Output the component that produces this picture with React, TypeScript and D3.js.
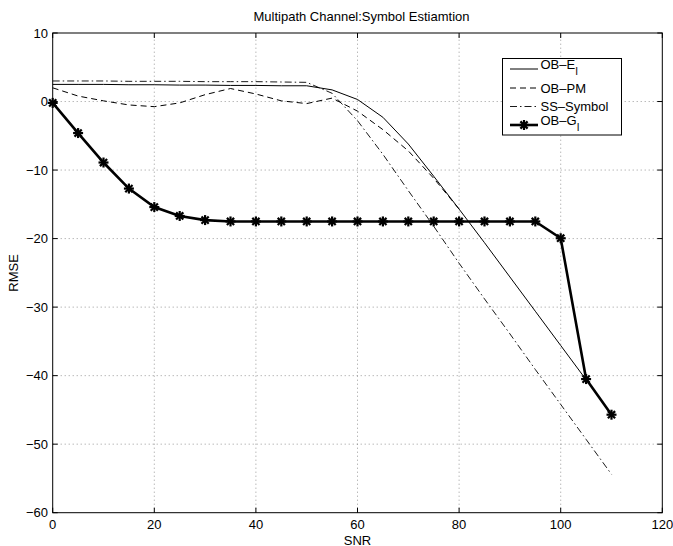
import React, { useEffect, useRef } from 'react';
import * as d3 from 'd3';

// SNR positions for each series
const snrE = [0, 5, 10, 15, 20, 25, 30, 35, 40, 45, 50, 55, 60, 65, 70, 75, 80, 85, 90, 95, 100, 105];
const snrPM = [0, 5, 10, 15, 20, 25, 30, 35, 40, 45, 50, 55, 60, 65, 70, 75, 80];
const snrFull = [0, 5, 10, 15, 20, 25, 30, 35, 40, 45, 50, 55, 60, 65, 70, 75, 80, 85, 90, 95, 100, 105, 110];

// RMSE values
const obE = [2.5, 2.5, 2.5, 2.45, 2.45, 2.4, 2.4, 2.35, 2.35, 2.3, 2.3, 1.7, 0.3, -2.3, -6.2, -10.9, -15.7, -20.6, -25.6, -30.6, -35.6, -40.6];
const obPM = [2.0, 0.8, 0.1, -0.5, -0.75, -0.2, 1.0, 1.9, 1.1, 0.1, -0.3, 0.5, -1.4, -4.1, -7.2, -11.2, -15.7];
const ssSymbol = [3.0, 3.0, 3.0, 2.95, 2.95, 2.95, 2.9, 2.9, 2.9, 2.85, 2.8, 1.2, -2.8, -7.7, -13.0, -18.2, -23.6, -28.8, -33.9, -39.1, -44.2, -49.3, -54.4];
const obG = [-0.2, -4.6, -8.9, -12.7, -15.4, -16.7, -17.3, -17.5, -17.5, -17.5, -17.5, -17.5, -17.5, -17.5, -17.5, -17.5, -17.5, -17.5, -17.5, -17.5, -19.95, -40.5, -45.7];

const xTicks = [0, 20, 40, 60, 80, 100, 120];
const yTicks = [10, 0, -10, -20, -30, -40, -50, -60];

const FONT = 'Arial, "Liberation Sans", Helvetica, sans-serif';

const App = () => {
  const ref = useRef<SVGSVGElement | null>(null);

  useEffect(() => {
    const svg = d3.select(ref.current);
    svg.selectAll('*').remove();

    const x = d3.scaleLinear().domain([0, 120]).range([52.7, 662.3]);
    const y = d3.scaleLinear().domain([-60, 10]).range([512.7, 33]);
    const [x0, x1] = x.range();
    const [y0, y1] = y.range();

    svg.append('rect').attr('width', 673).attr('height', 546).attr('fill', '#fff');

    // grid
    const grid = svg.append('g').attr('stroke', '#555').attr('stroke-width', 0.6).attr('stroke-dasharray', '1,3');
    xTicks.slice(1, -1).forEach(t => {
      grid.append('line').attr('x1', x(t)).attr('x2', x(t)).attr('y1', y0).attr('y2', y1);
    });
    yTicks.slice(1, -1).forEach(t => {
      grid.append('line').attr('x1', x0).attr('x2', x1).attr('y1', y(t)).attr('y2', y(t));
    });

    // axes box + inward ticks
    const axis = svg.append('g').attr('stroke', '#000').attr('stroke-width', 1).attr('fill', 'none');
    axis.append('rect').attr('x', x0).attr('y', y1).attr('width', x1 - x0).attr('height', y0 - y1);
    xTicks.forEach(t => {
      axis.append('line').attr('x1', x(t)).attr('x2', x(t)).attr('y1', y0).attr('y2', y0 - 5);
      axis.append('line').attr('x1', x(t)).attr('x2', x(t)).attr('y1', y1).attr('y2', y1 + 5);
    });
    yTicks.forEach(t => {
      axis.append('line').attr('x1', x0).attr('x2', x0 + 5).attr('y1', y(t)).attr('y2', y(t));
      axis.append('line').attr('x1', x1).attr('x2', x1 - 5).attr('y1', y(t)).attr('y2', y(t));
    });

    const txt = svg.append('g').style('font-family', FONT).style('font-size', '13px').attr('fill', '#000');
    xTicks.forEach(t => {
      txt.append('text').attr('x', x(t)).attr('y', 528.5).attr('text-anchor', 'middle').text(String(t).replace('-', '\u2212'));
    });
    yTicks.forEach(t => {
      txt.append('text').attr('x', 48).attr('y', y(t) + 4.5).attr('text-anchor', 'end').text(String(t).replace('-', '\u2212'));
    });
    txt.append('text').attr('x', (x0 + x1) / 2).attr('y', 544.5).attr('text-anchor', 'middle').text('SNR');
    txt.append('text').attr('transform', `translate(18,${(y0 + y1) / 2}) rotate(-90)`)
      .attr('text-anchor', 'middle').text('RMSE');
    txt.append('text').attr('x', (x0 + x1) / 2 + 4).attr('y', 21).attr('text-anchor', 'middle')
      .text('Multipath Channel:Symbol Estiamtion');

    const line = d3.line<[number, number]>().x(d => x(d[0])).y(d => y(d[1]));
    const plot = svg.append('g').attr('fill', 'none').attr('stroke', '#000');

    plot.append('path').attr('d', line(snrE.map((s, i) => [s, obE[i]]))).attr('stroke-width', 1);
    plot.append('path').attr('d', line(snrPM.map((s, i) => [s, obPM[i]]))).attr('stroke-width', 1)
      .attr('stroke-dasharray', '6,4');
    plot.append('path').attr('d', line(snrFull.map((s, i) => [s, ssSymbol[i]]))).attr('stroke-width', 0.9)
      .attr('stroke-dasharray', '7,3,1.5,3');
    plot.append('path').attr('d', line(snrFull.map((s, i) => [s, obG[i]]))).attr('stroke-width', 2.6);

    const star = (g: any, cx: number, cy: number, r: number) => {
      const p = g.append('g').attr('transform', `translate(${cx},${cy})`).attr('stroke', '#000').attr('stroke-width', 2.2);
      p.append('line').attr('x1', -r).attr('x2', r).attr('y1', 0).attr('y2', 0);
      p.append('line').attr('x1', 0).attr('x2', 0).attr('y1', -r).attr('y2', r);
      const k = r * 0.72;
      p.append('line').attr('x1', -k).attr('x2', k).attr('y1', -k).attr('y2', k);
      p.append('line').attr('x1', -k).attr('x2', k).attr('y1', k).attr('y2', -k);
    };
    snrFull.forEach((s, i) => star(plot, x(s), y(obG[i]), 5));

    // legend
    const lg = svg.append('g');
    lg.append('rect').attr('x', 502.5).attr('y', 58.5).attr('width', 119).attr('height', 76.5)
      .attr('fill', '#fff').attr('stroke', '#000').attr('stroke-width', 1);
    const entries = [
      { main: 'OB\u2013E', sub: 'I', dash: null, w: 1 },
      { main: 'OB\u2013PM', sub: '', dash: '6,4', w: 1 },
      { main: 'SS\u2013Symbol', sub: '', dash: '7,3,1.5,3', w: 0.9 },
      { main: 'OB\u2013G', sub: 'I', dash: null, w: 2.6 },
    ];
    const rowY = [69, 88, 106.5, 125];
    entries.forEach((e, i) => {
      const ly = rowY[i];
      const l = lg.append('line').attr('x1', 510).attr('x2', 538).attr('y1', ly).attr('y2', ly)
        .attr('stroke', '#000').attr('stroke-width', e.w);
      if (e.dash) l.attr('stroke-dasharray', e.dash);
      if (i === 3) star(lg, 524, ly, 5);
      const t = lg.append('text').attr('x', 540.5).attr('y', ly + (e.sub ? 0 : 4.5))
        .style('font-family', FONT).style('font-size', '13px').text(e.main);
      if (e.sub) t.append('tspan').attr('dy', 6).style('font-size', '10px').text(e.sub);
    });
  }, []);

  return (
    <svg ref={ref} width={673} height={546}
      style={{ position: 'absolute', left: 0, top: 0, display: 'block' }} />
  );
};

export default App;
